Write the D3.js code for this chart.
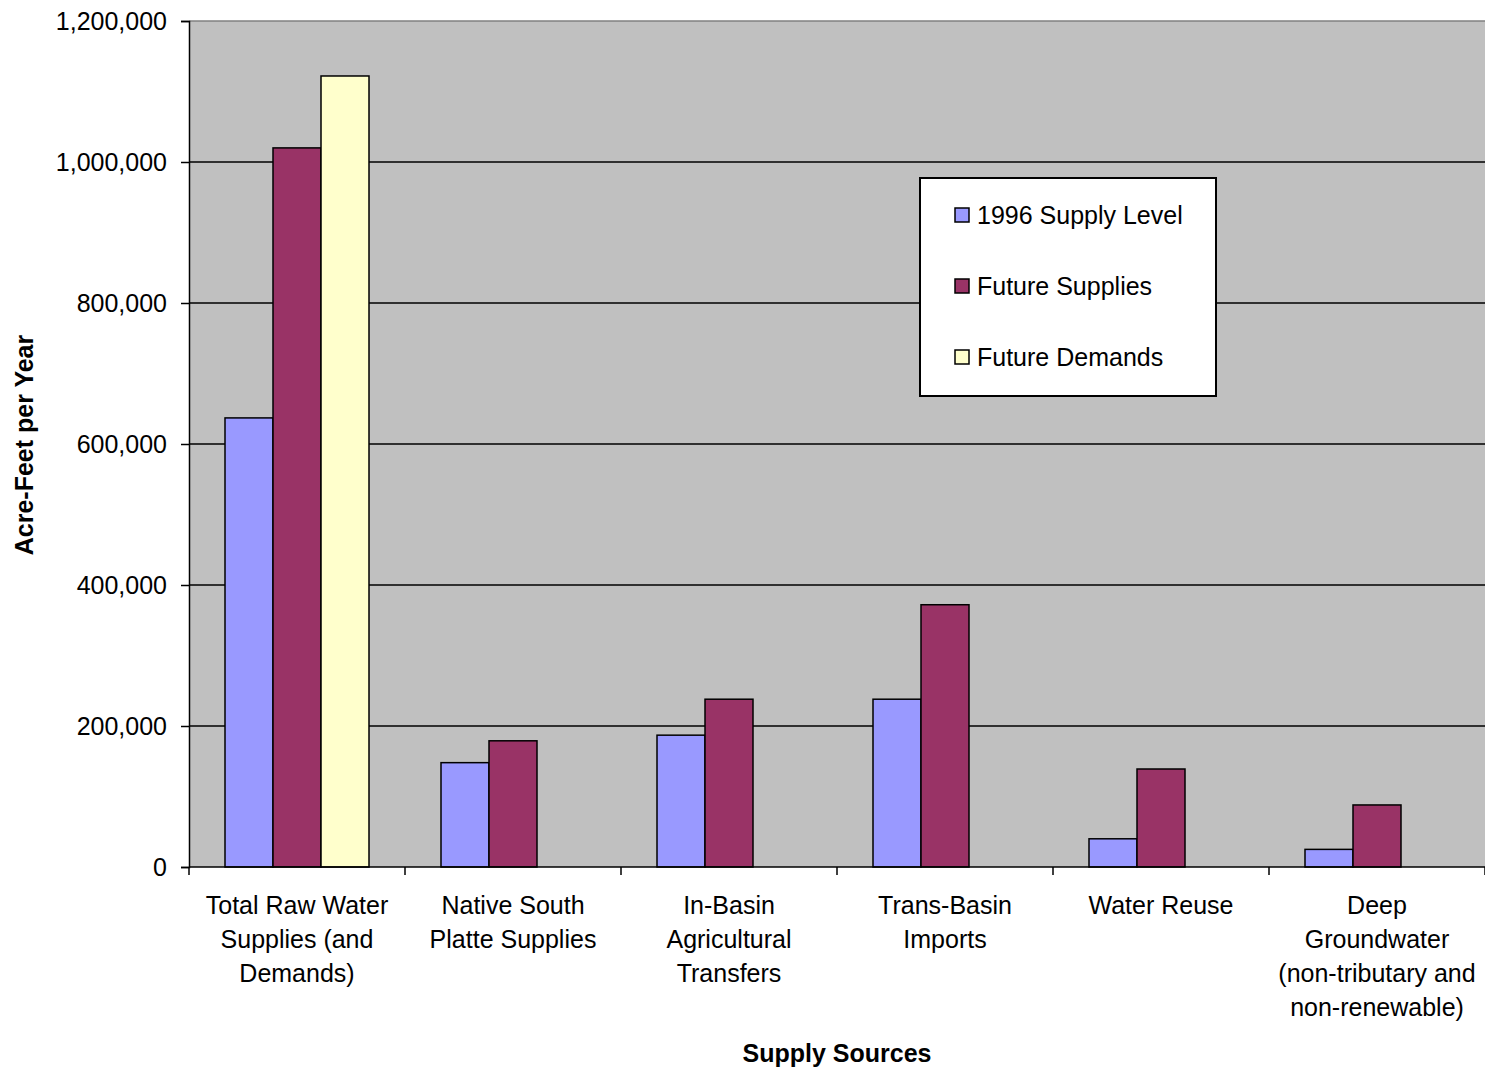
<!DOCTYPE html>
<html>
<head>
<meta charset="utf-8">
<script src="https://cdn.jsdelivr.net/npm/d3@7"></script>
<style>
  html, body { margin: 0; padding: 0; background: #fff; }
  svg { display: block; }
  text { font-family: "Liberation Sans", Arial, sans-serif; fill: #000; }
</style>
</head>
<body>
<svg id="chart" width="1485" height="1069"></svg>
<script>
// ---- Data ----
const categories = [
  ["Total Raw Water", "Supplies (and", "Demands)"],
  ["Native South", "Platte Supplies"],
  ["In-Basin", "Agricultural", "Transfers"],
  ["Trans-Basin", "Imports"],
  ["Water Reuse"],
  ["Deep", "Groundwater", "(non-tributary and", "non-renewable)"]
];
const seriesNames = ["1996 Supply Level", "Future Supplies", "Future Demands"];
const supply1996 = [637000, 148000, 187000, 238000, 40000, 25000];
const futureSupplies = [1020000, 179000, 238000, 372000, 139000, 88000];
const futureDemands = [1122000, null, null, null, null, null];
const yTicks = [0, 200000, 400000, 600000, 800000, 1000000, 1200000];
const seriesColors = ["#9999ff", "#993366", "#ffffcc"];

// ---- Layout ----
const svg = d3.select("#chart");
const plot = { left: 189, right: 1485, top: 21, bottom: 867 };

const x0 = d3.scaleBand()
  .domain(d3.range(categories.length))
  .range([plot.left, plot.right])
  .paddingInner(0).paddingOuter(0);

// Excel gap width 150%: 3 bars + 1.5 bar gap per band
const x1 = d3.scaleBand()
  .domain(d3.range(seriesNames.length))
  .range([0, x0.bandwidth()])
  .paddingInner(0)
  .paddingOuter(0.75);

const y = d3.scaleLinear().domain([0, 1200000]).range([plot.bottom, plot.top]);

// Plot background
svg.append("rect")
  .attr("x", plot.left).attr("y", plot.top)
  .attr("width", plot.right - plot.left).attr("height", plot.bottom - plot.top)
  .attr("fill", "#c0c0c0");

// Gridlines
svg.append("g")
  .selectAll("line")
  .data(yTicks.filter(d => d > 0 && d < 1200000))
  .join("line")
  .attr("x1", plot.left).attr("x2", plot.right)
  .attr("y1", d => y(d)).attr("y2", d => y(d))
  .attr("stroke", "#000").attr("stroke-width", 1.5);

// top border line (gray)
svg.append("line")
  .attr("x1", plot.left).attr("x2", plot.right)
  .attr("y1", y(1200000)).attr("y2", y(1200000))
  .attr("stroke", "#808080").attr("stroke-width", 1.5);

// Bars
const allSeries = [supply1996, futureSupplies, futureDemands];
const barData = [];
categories.forEach((c, i) => {
  allSeries.forEach((s, j) => {
    if (s[i] != null) barData.push({ cat: i, ser: j, value: s[i] });
  });
});

svg.append("g")
  .selectAll("rect")
  .data(barData)
  .join("rect")
  .attr("x", d => x0(d.cat) + x1(d.ser))
  .attr("y", d => y(d.value))
  .attr("width", x1.bandwidth())
  .attr("height", d => y(0) - y(d.value))
  .attr("fill", d => seriesColors[d.ser])
  .attr("stroke", "#000")
  .attr("stroke-width", 1.5);

// Y axis
const yAxis = d3.axisLeft(y)
  .tickValues(yTicks)
  .tickSize(8)
  .tickPadding(14)
  .tickFormat(d3.format(","));
const yg = svg.append("g")
  .attr("transform", `translate(${plot.left},0)`)
  .call(yAxis);
yg.select(".domain").attr("stroke", "#000").attr("stroke-width", 1.5);
yg.selectAll(".tick line").attr("stroke", "#000").attr("stroke-width", 1.5);
yg.selectAll(".tick text")
  .attr("font-size", "25px")
  .attr("font-family", "'Liberation Sans', Arial, sans-serif")
  .attr("fill", "#000");

// X axis (ticks at band boundaries)
const xBoundaries = d3.range(categories.length + 1).map(i =>
  i < categories.length ? x0(i) : plot.right);
svg.append("line")
  .attr("x1", plot.left).attr("x2", plot.right)
  .attr("y1", plot.bottom).attr("y2", plot.bottom)
  .attr("stroke", "#000").attr("stroke-width", 1.5);
svg.append("g")
  .selectAll("line")
  .data(xBoundaries)
  .join("line")
  .attr("x1", d => d).attr("x2", d => d)
  .attr("y1", plot.bottom).attr("y2", plot.bottom + 8)
  .attr("stroke", "#000").attr("stroke-width", 1.5);

// Category labels
const catG = svg.append("g");
categories.forEach((lines, i) => {
  const t = catG.append("text")
    .attr("x", x0(i) + x0.bandwidth() / 2)
    .attr("y", 914)
    .attr("text-anchor", "middle")
    .attr("font-size", "25px");
  lines.forEach((ln, k) => {
    t.append("tspan")
      .attr("x", x0(i) + x0.bandwidth() / 2)
      .attr("dy", k === 0 ? 0 : 34)
      .text(ln);
  });
});

// Axis titles
svg.append("text")
  .attr("x", (plot.left + plot.right) / 2)
  .attr("y", 1062)
  .attr("text-anchor", "middle")
  .attr("font-size", "25px")
  .attr("font-weight", "bold")
  .text("Supply Sources");

svg.append("text")
  .attr("transform", `translate(33,445) rotate(-90)`)
  .attr("text-anchor", "middle")
  .attr("font-size", "25px")
  .attr("font-weight", "bold")
  .text("Acre-Feet per Year");

// Legend
const legend = svg.append("g");
legend.append("rect")
  .attr("x", 920).attr("y", 178)
  .attr("width", 296).attr("height", 218)
  .attr("fill", "#fff")
  .attr("stroke", "#000").attr("stroke-width", 2);
seriesNames.forEach((name, i) => {
  const cy = 215 + i * 71;
  legend.append("rect")
    .attr("x", 955).attr("y", cy - 7)
    .attr("width", 14).attr("height", 14)
    .attr("fill", seriesColors[i])
    .attr("stroke", "#000").attr("stroke-width", 1.5);
  legend.append("text")
    .attr("x", 977).attr("y", cy + 9)
    .attr("font-size", "25px")
    .text(name);
});
</script>
</body>
</html>
